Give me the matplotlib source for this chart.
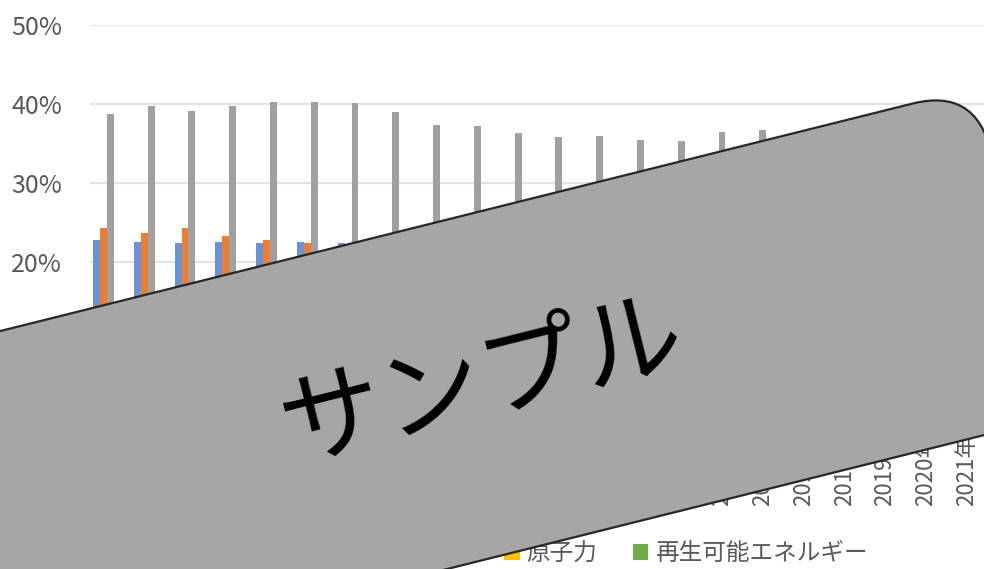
# ============================================================
# Section 1. Setup and Imports
# ============================================================

import matplotlib

matplotlib.use("Agg")

import matplotlib.pyplot as plt
import numpy as np
from matplotlib.patches import FancyBboxPatch, Patch
from matplotlib.ticker import FuncFormatter
from matplotlib.transforms import Affine2D

# Japanese text needs a CJK font; DejaVu is the fallback for anything else.
plt.rcParams["font.family"] = ["Noto Sans CJK JP", "DejaVu Sans"]

# ============================================================
# Section 2. Data (shares in %)
# ============================================================

years = [
    "2000年", "2001年", "2002年", "2003年", "2004年", "2005年",
    "2006年", "2007年", "2008年", "2009年", "2010年", "2011年",
    "2012年", "2013年", "2014年", "2015年", "2016年", "2017年",
    "2018年", "2019年", "2020年", "2021年",
]

coal = [22.8, 22.5, 22.4, 22.5, 22.4, 22.5, 22.4, 22.4, 22.5, 20.9, 21.3,
        20.2, 18.3, 18.8, 18.5, 16.1, 14.5, 14.1, 13.1, 11.3, 9.9, 10.8]
gas = [24.3, 23.7, 24.3, 23.3, 22.8, 22.4, 22.3, 23.4, 24.0, 24.7, 25.2,
       25.8, 27.6, 27.8, 28.0, 29.3, 29.3, 28.6, 31.0, 32.1, 33.0, 32.2]
oil = [38.7, 39.7, 39.1, 39.7, 40.2, 40.3, 40.1, 39.0, 37.3, 37.2, 36.3,
       35.8, 35.9, 35.4, 35.3, 36.5, 36.7, 36.6, 36.9, 37.0, 34.9, 36.0]
nuclear = [8.0, 8.3, 8.3, 8.0, 8.2, 8.1, 8.2, 8.3, 8.5, 8.8, 8.6,
           8.4, 8.5, 8.5, 8.5, 8.6, 8.6, 8.6, 8.4, 8.5, 8.9, 8.4]
renewable = [6.2, 5.3, 5.9, 6.2, 6.2, 6.3, 6.8, 6.5, 7.3, 8.2, 8.2,
             9.2, 8.9, 9.4, 9.7, 9.6, 10.5, 11.3, 11.3, 11.5, 12.5, 12.5]

series_names = ["石炭", "天然ガス", "石油", "原子力", "再生可能エネルギー"]
series_values = [coal, gas, oil, nuclear, renewable]
series_colors = ["#6a92d8", "#ed7d31", "#a0a0a0", "#ffc000", "#70ad47"]

TEXT_GREY = "#595959"
GRID_GREY = "#e3e3e3"

# ============================================================
# Section 3. Bar chart
# ============================================================

fig = plt.figure(figsize=(9.84, 5.69), dpi=100)

# Plot area in pixels: left 90, 0% at y=149, 50% at y=544 (from bottom).
ax = fig.add_axes([90 / 984, 149 / 569, 897 / 984, 395 / 569])

x = np.arange(len(years))
bar_w = 0.17
for k, (name, vals, col) in enumerate(zip(series_names, series_values, series_colors)):
    ax.bar(x + (k - 2) * bar_w, vals, width=bar_w, color=col, label=name, zorder=2)

ax.set_xlim(-0.5, len(years) - 0.5)
ax.set_ylim(0, 50)
ax.set_yticks([0, 10, 20, 30, 40, 50])
ax.yaxis.set_major_formatter(FuncFormatter(lambda v, _: f"{v:.0f}%"))
ax.grid(axis="y", color=GRID_GREY, linewidth=1.5, zorder=0)

ax.set_xticks(x)
ax.set_xticklabels(years, rotation=90, fontsize=16, color=TEXT_GREY)
ax.tick_params(axis="y", length=0, pad=20, labelsize=18, labelcolor=TEXT_GREY)
ax.tick_params(axis="x", length=0, pad=10)

for side in ["top", "right", "left"]:
    ax.spines[side].set_visible(False)
ax.spines["bottom"].set_color("#d9d9d9")

# Legend along the bottom of the figure with small square markers.
handles = [Patch(facecolor=c, edgecolor="none") for c in series_colors]
fig.legend(
    handles,
    series_names,
    loc="center",
    bbox_to_anchor=(0.513, 15 / 569),
    ncol=5,
    frameon=False,
    fontsize=17,
    labelcolor=TEXT_GREY,
    handlelength=0.65,
    handleheight=0.65,
    handletextpad=0.3,
    columnspacing=1.5,
)

# ============================================================
# Section 4. "Sample" overlay (rotated rounded box + text)
# ============================================================

ov = fig.add_axes([0, 0, 1, 1], zorder=10)
ov.set_xlim(0, 984)
ov.set_ylim(0, 569)
ov.axis("off")

box_w, box_h, radius = 1400, 339, 64
box = FancyBboxPatch(
    (-box_w, -box_h),
    box_w,
    box_h,
    boxstyle=f"round,pad=0,rounding_size={radius}",
    facecolor="#a6a6a6",
    edgecolor="#262626",
    linewidth=1.6,
    transform=Affine2D().rotate_deg(14).translate(975, 481) + ov.transData,
)
ov.add_patch(box)

ov.text(
    482,
    186,
    "サンプル",
    rotation=14,
    rotation_mode="anchor",
    ha="center",
    va="center",
    fontsize=74,
    color="black",
)

plt.savefig("out.png", dpi=100)
plt.close()
